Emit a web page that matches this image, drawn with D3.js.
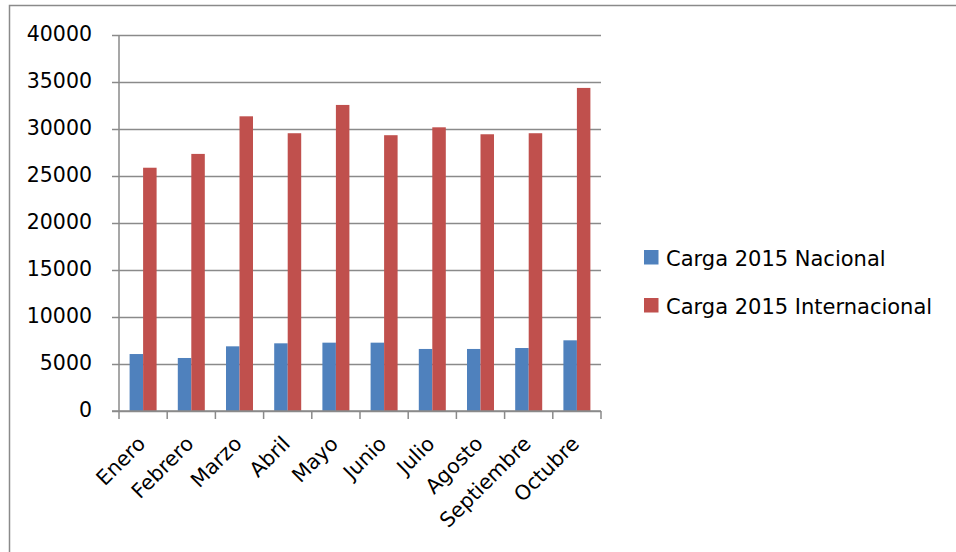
<!DOCTYPE html>
<html>
<head>
<meta charset="utf-8">
<script src="https://cdn.jsdelivr.net/npm/d3@7"></script>
<style>
  html, body { margin: 0; padding: 0; background: #ffffff; }
  svg { display: block; font-family: "DejaVu Sans", sans-serif; }
</style>
</head>
<body>
<svg id="chart" width="956" height="552"></svg>
<script>
// Monthly cargo, 2015
const months = ["Enero", "Febrero", "Marzo", "Abril", "Mayo", "Junio", "Julio", "Agosto", "Septiembre", "Octubre"];
const seriesNames = ["Carga 2015 Nacional", "Carga 2015 Internacional"];
const nacional = [6060, 5640, 6880, 7200, 7270, 7270, 6600, 6600, 6700, 7520];
const internacional = [25880, 27350, 31350, 29550, 32560, 29340, 30180, 29440, 29550, 34370];
const yTicks = [0, 5000, 10000, 15000, 20000, 25000, 30000, 35000, 40000];
const colors = ["#4f81bd", "#c0504d"];

const svg = d3.select("#chart");
const gridColor = "#8a8a8a";

// Outer chart frame
svg.append("rect")
  .attr("x", 9.5).attr("y", 5.5)
  .attr("width", 1000).attr("height", 600)
  .attr("fill", "none").attr("stroke", gridColor).attr("stroke-width", 1.5);

const plot = { left: 119, right: 601, top: 35, bottom: 411 };

const x = d3.scaleBand().domain(months).range([plot.left, plot.right]).paddingInner(0).paddingOuter(0);
const xs = d3.scaleBand().domain(seriesNames).range([0, x.bandwidth()]).paddingInner(0).paddingOuter(0.785);
const y = d3.scaleLinear().domain([0, 40000]).range([plot.bottom, plot.top]);

// Horizontal gridlines with left tick marks
const yAxis = svg.append("g")
  .attr("transform", `translate(${plot.left},0)`)
  .call(d3.axisLeft(y).tickValues(yTicks).tickSize(0).tickPadding(27).tickFormat(d3.format("d")));
yAxis.select(".domain").remove();
yAxis.selectAll(".tick text")
  .attr("fill", "#000").attr("font-size", "20.5px")
  .attr("font-family", "DejaVu Sans, sans-serif")
  .attr("dy", "0.25em");
yAxis.selectAll(".tick").append("line")
  .attr("x1", -7).attr("x2", plot.right - plot.left)
  .attr("stroke", gridColor).attr("stroke-width", 1.5);

// Y axis line
svg.append("line")
  .attr("x1", plot.left).attr("x2", plot.left)
  .attr("y1", plot.top).attr("y2", plot.bottom)
  .attr("stroke", gridColor).attr("stroke-width", 1.5);

// Bars
const data = months.map((m, i) => ({ month: m, values: [nacional[i], internacional[i]] }));
const groups = svg.append("g").selectAll("g")
  .data(data).join("g")
  .attr("transform", d => `translate(${x(d.month)},0)`);
groups.selectAll("rect")
  .data(d => d.values.map((v, k) => ({ key: seriesNames[k], value: v, k })))
  .join("rect")
  .attr("x", d => xs(d.key))
  .attr("width", xs.bandwidth())
  .attr("y", d => y(d.value))
  .attr("height", d => y(0) - y(d.value))
  .attr("fill", d => colors[d.k]);

// X axis line and category boundary ticks
svg.append("line")
  .attr("x1", plot.left - 7).attr("x2", plot.right)
  .attr("y1", plot.bottom).attr("y2", plot.bottom)
  .attr("stroke", gridColor).attr("stroke-width", 1.5);
const boundaries = months.map(m => x(m)).concat([x(months[months.length - 1]) + x.bandwidth()]);
svg.append("g").selectAll("line")
  .data(boundaries).join("line")
  .attr("x1", d => d).attr("x2", d => d)
  .attr("y1", plot.bottom).attr("y2", plot.bottom + 8)
  .attr("stroke", gridColor).attr("stroke-width", 1.5);

// Rotated month labels
svg.append("g").selectAll("text")
  .data(months).join("text")
  .attr("transform", m => `translate(${x(m) + x.bandwidth() / 2 + 3.5},445) rotate(-45)`)
  .attr("text-anchor", "end")
  .attr("font-size", "20.5px")
  .attr("fill", "#000")
  .text(m => m);

// Legend
const legend = svg.append("g").selectAll("g")
  .data(seriesNames).join("g")
  .attr("transform", (d, i) => `translate(644,${250 + i * 48})`);
legend.append("rect")
  .attr("width", 14.5).attr("height", 14.5)
  .attr("fill", (d, i) => colors[i]);
legend.append("text")
  .attr("x", 22).attr("y", 15.5)
  .attr("font-size", "21px")
  .attr("fill", "#000")
  .text(d => d);
</script>
</body>
</html>
